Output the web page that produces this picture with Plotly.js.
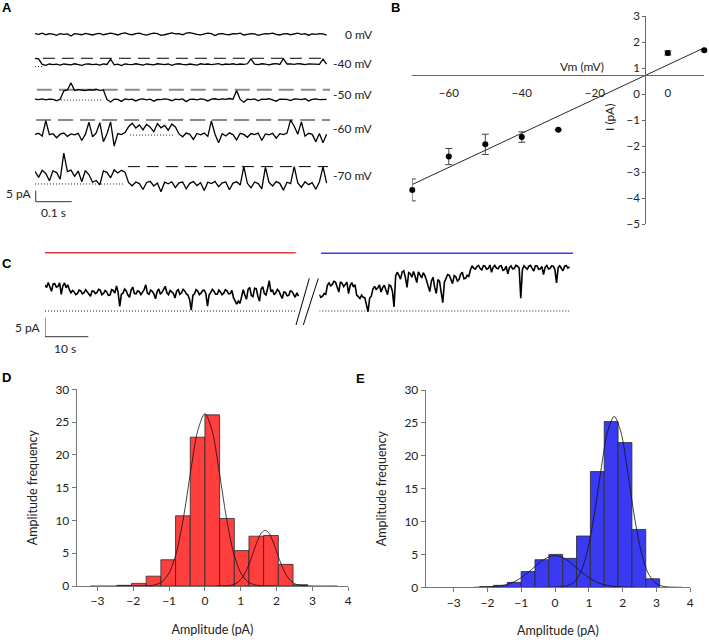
<!DOCTYPE html>
<html><head><meta charset="utf-8">
<script src="https://cdn.plot.ly/plotly-3.0.1.min.js"></script>
<style>html,body{margin:0;padding:0;background:#fff}#chart{width:709px;height:642px}</style>
</head><body><div id="chart"></div>
<script>
// ---------- DATA ----------
// Panel A: single-channel traces (pA, relative to closed level), sampled every 0.01 s
const rowLabels = ['0 mV','-40 mV','-50 mV','-60 mV','-70 mV'];
const A_DT = 0.01;
const r0 = [0.3,0,0.5,-0.2,0.3,0.1,-0.5,0.3,0,0.2,-0.8,0.3,0.1,-0.2,0.4,0,-0.3,0.2,0.4,-0.2,0,0.5,0.2,-0.3,0.3,0.6,0.1,-0.2,0.3,0.5,0,-0.4,0.2,0.5,0.3,-0.5,-0.2,0.3,0.6,0.2,0.3,-0.2,0.5,0.8,0.3,0,-0.3,0.2,0.5,0.3,-0.6,0.2,0.3,0,-0.2,0.3,0.2,0.5,-0.3,0,0.3,0.2,-0.5,0,0.3,0.2,0.5,0,-0.3,0.2,0.3,-0.2,0.2,0.5,0,0.3,-0.4,0.2,0,0.3,0.2,-0.4];
const r40 = [3.8,3.5,1.0,0.6,1.2,0.9,1.1,0.7,1.2,1.0,0.8,1.3,1.0,0.6,1.1,1.2,0.9,1.1,0.7,1.2,1.0,3.4,0.8,1.1,0.5,1.2,1.0,0.9,1.3,1.0,0.7,1.2,1.1,0.8,1.3,1.0,0.9,1.2,0.6,1.1,1.3,1.0,0.8,1.2,1.1,0.7,1.3,1.0,1.2,0.9,1.1,1.4,0.8,1.2,1.0,1.3,0.9,1.2,1.0,1.3,3.5,1.1,0.9,1.3,1.1,0.8,1.2,1.4,1.0,3.6,1.2,1.3,1.0,1.4,1.2,0.9,1.3,1.1,1.2,1.0,3.4,1.1];
const r50 = [0.4,0.2,0.5,0.1,0.4,0.3,-0.3,0.4,4.2,4.6,7.8,4.4,4.8,4.5,4.3,4.7,4.5,4.9,4.4,4.6,0.2,-0.9,0.4,0.3,-0.6,0.5,0.2,0.4,-0.4,0.3,0.5,0.1,0.4,-0.5,0.3,0.2,0.5,0.3,-0.3,0.4,0.2,0.5,-0.7,0.3,0.4,0.1,0.5,0.3,-0.4,0.4,0.6,0.2,0.5,0.3,0.7,0.4,4.4,0.3,-1.0,0.4,0.2,0.5,-0.3,0.4,0.3,0.6,0.2,-0.5,0.4,0.5,0.3,-0.2,0.5,0.4,0.2,0.6,-0.4,0.3,0.5,0.2,0.4,0.3];
const r60 = [0.3,0.8,-0.5,6.5,0.2,0.6,-1.2,0.4,0.9,-0.6,0.5,0.1,0.8,-2.5,0.4,5.8,-0.8,1.0,5.6,-3.0,0.6,6.0,-5.0,0.7,0.2,1.1,3.8,5.4,3.2,4.6,2.4,4.9,3.6,1.5,5.2,3.3,4.4,2.2,5.0,3.7,0.5,-0.8,0.9,0.3,-2.0,0.7,0.1,0.9,-0.6,6.4,0.4,-3.5,0.6,-0.4,1.0,0.2,-2.2,0.8,0.3,-1.0,0.7,0.2,0.9,-2.5,0.5,0.1,0.8,-1.4,0.6,0.2,0.9,6.8,4.0,0.4,6.0,-0.5,0.8,0.3,-3.0,0.7,-3.5,0.4];
const r70 = [5.8,3.0,6.2,4.8,1.5,6.0,5.2,2.2,14.0,5.6,6.3,3.5,5.9,1.0,6.1,4.2,0.8,1.6,-0.4,6.0,5.3,2.8,6.4,5.0,6.2,5.4,0.6,-0.8,0.9,0.2,-2.5,0.7,1.2,-0.9,0.4,-3.5,0.8,0.1,1.0,-1.6,0.5,0.9,-2.2,0.3,1.1,-0.7,0.6,-3.0,0.8,0.2,1.2,-1.2,0.5,0.9,-2.6,0.4,1.0,-0.5,7.9,0.3,-1.8,0.9,0.2,-2.2,7.6,0.7,-0.9,1.1,0.3,-2.8,0.8,0.2,7.9,0.5,-1.5,1.0,-0.3,0.6,-2.4,0.9,7.8,0.4];
// reference levels (pA) and the time spans (s) they are drawn over
const openLevel  = [null, 3.8, 4.7, 6.8, 7.9];
const openStart  = [null, 0.022, 0.005, 0.003, 0.258];
const openEnd    = [null, 0.814, 0.82, 0.82, 0.814];
const closedStart= [null, 0, 0.072, 0.264, 0];
const closedEnd  = [null, 0.02, 0.186, 0.389, 0.25];

// Panel B: I-V relation
const vm    = [-70,-60,-50,-40,-30,0,10];
const iMean = [-3.68,-2.40,-1.93,-1.65,-1.37,1.58,1.68];
const iErr  = [0.42,0.31,0.39,0.20,0,0.08,0.03];
const fitVm = [-70,10];
const fitI  = [-3.47,1.78];
const vmTicks = [-60,-40,-20,0];

// Panel C: long recording (pA above closed level), samples every 0.375 s
const C_DT = 0.375;
const cLeft = [
 6.8,6.2,7.5,6.4,5.2,7.1,7.2,6.3,6.5,7.4,4.4,6.6,7.4,6.1,6.9,5.6,4.8,5.4,5.0,4.3,
 4.6,5.5,5.3,4.5,4.8,5.6,5.1,4.4,3.9,5.3,5.2,4.6,4.9,5.7,5.5,4.3,4.6,5.4,5.0,4.1,
 4.2,5.6,5.4,4.7,6.6,4.9,1.2,4.4,4.7,5.8,5.3,4.2,3.6,5.5,6.3,4.6,4.5,5.3,5.1,4.3,
 4.8,5.6,6.9,4.7,4.4,5.5,5.2,4.5,3.2,5.1,5.8,4.4,4.9,5.6,6.5,4.8,4.3,5.4,5.0,4.6,
 3.4,5.2,5.6,4.4,4.8,5.7,5.3,4.5,4.2,3.0,0.2,4.1,4.5,5.6,5.2,4.3,4.7,5.4,5.5,4.6,
 1.3,4.2,4.9,5.7,5.2,4.4,4.4,5.5,5.0,4.3,4.7,5.6,5.3,4.5,4.6,5.4,3.5,2.4,1.8,2.6,
 2.0,3.8,5.6,4.2,3.1,5.7,6.2,4.1,3.8,6.0,5.9,3.9,2.6,5.8,6.4,4.6,4.2,5.9,8.0,5.1,
 5.6,4.3,4.8,5.7,5.2,4.2,3.3,5.0,4.9,4.0,4.1,5.3,5.1,4.4,3.6,4.8,3.9];
const cRight = [
 4.3,3.6,3.9,4.6,4.4,6.8,7.4,6.6,7.0,7.8,7.6,6.5,5.0,7.7,7.3,6.4,7.1,7.6,4.6,6.7,
 7.5,6.3,6.9,4.2,3.8,3.3,4.2,3.6,3.5,2.0,-0.2,3.4,3.9,5.8,6.5,5.7,6.1,6.9,5.0,6.2,
 6.8,5.5,4.3,6.9,6.6,5.2,1.1,9.2,10.2,9.4,8.4,10.3,10.6,8.8,6.2,10.1,9.8,8.9,10.4,9.1,
 7.5,10.3,9.6,8.7,10.1,9.3,8.0,6.4,5.1,7.9,8.9,6.2,4.6,8.3,7.8,5.0,2.2,7.6,8.8,9.6,
 9.4,8.1,7.2,9.3,9.0,7.9,8.3,9.7,10.2,8.5,8.6,9.4,9.1,10.8,11.9,11.3,11.0,11.7,12.0,11.2,
 10.8,11.9,11.8,11.0,11.2,12.1,10.2,11.5,12.0,11.3,11.1,11.8,11.9,10.7,10.9,11.8,9.8,11.4,11.9,11.1,
 11.2,12.0,11.8,11.3,3.4,11.0,11.9,11.4,11.0,11.8,12.0,11.2,10.5,11.9,11.9,11.0,11.1,11.7,9.6,11.5,
 12.0,11.1,11.2,11.9,11.8,10.9,7.4,11.4,11.9,11.2,10.6,11.8,12.0,11.3,11.6];
const segRed  = [0, 57.86];   // s, left record analysed in D
const segBlue = [0.4, 58.6];  // s, right record analysed in E

// Panel D: amplitude histogram (red) + gaussian fits
const binD  = [-2.255,-1.845,-1.435,-1.025,-0.615,-0.205,0.205,0.615,1.025,1.435,1.845,2.255,2.665];
const freqD = [0.1,0.4,1.5,4.0,10.7,22.7,26.1,10.3,5.4,7.6,7.7,3.3,0.2];
const fitD1x = [-3.2,-2.0,-1.8,-1.6,-1.4,-1.2,-1.0,-0.8,-0.6,-0.4,-0.2,0,0.2,0.4,0.6,0.8,1.0,1.2,1.4,1.6,1.8,2.0];
const fitD1y = [0,0,0.01,0.04,0.17,0.64,1.99,5.03,10.4,17.4,23.7,26.3,23.7,17.4,10.4,5.03,1.99,0.64,0.17,0.04,0.01,0];
const fitD2x = [0.3,0.48,0.68,0.78,0.88,0.98,1.08,1.18,1.28,1.38,1.48,1.58,1.68,1.78,1.88,1.98,2.08,2.18,2.28,2.38,2.48,2.58,2.68,2.88,3.7];
const fitD2y = [0,0.01,0.08,0.2,0.43,0.87,1.59,2.66,4.04,5.59,7.06,8.12,8.5,8.12,7.06,5.59,4.04,2.66,1.59,0.87,0.43,0.2,0.08,0.01,0];

// Panel E: amplitude histogram (blue) + gaussian fits
const binE  = [-2.03,-1.62,-1.21,-0.80,-0.39,0.02,0.43,0.84,1.25,1.66,2.07,2.48,2.89];
const freqE = [0.1,0.3,0.75,2.4,4.2,5.0,4.4,7.8,17.6,25.2,22.0,8.8,1.3];
const fitE1x = [-2.4,-2.2,-2.0,-1.8,-1.6,-1.4,-1.2,-1.0,-0.8,-0.6,-0.4,-0.2,0,0.2,0.4,0.6,0.8,1.0,1.2,1.4,1.6,1.8,2.0,2.2,2.4];
const fitE1y = [0.005,0.015,0.04,0.10,0.23,0.47,0.87,1.47,2.25,3.13,3.97,4.58,4.8,4.58,3.97,3.13,2.25,1.47,0.87,0.47,0.23,0.10,0.04,0.015,0.005];
const fitE2x = [-0.25,-0.05,0.15,0.35,0.55,0.75,0.95,1.15,1.35,1.55,1.75,1.95,2.15,2.35,2.55,2.75,2.95,3.15,3.35,3.55,3.75];
const fitE2y = [0,0.01,0.05,0.21,0.74,2.2,5.35,10.7,17.5,23.6,26.0,23.6,17.5,10.7,5.35,2.2,0.74,0.21,0.05,0.01,0];
const ampTicks = [-3,-2,-1,0,1,2,3,4];

// scale bars
const scaleA = {pA:5, s:0.1};
const scaleC = {pA:5, s:10};

// ---------- LAYOUT HELPERS ----------
const W = 709, H = 642;
const fx = p => p / W, fy = p => 1 - p / H;
const FONT = 'Lato, "Open Sans", sans-serif';
const A_BASE = [77.6, 62.9, 47.7, 31.8, 9.55];   // vertical offset of each row (axis units)
const dashColor = ['', '#000', '#8a8a8a', '#8a8a8a', '#000'];
const dashWidth = [0, 1, 2, 2, 1];
const dashPat   = ['', '12px,7px', '15px,7px', '15px,7px', '12px,7px'];

const traces = [];
const aRows = [r0, r40, r50, r60, r70];
aRows.forEach((r, k) => {
  if (openLevel[k] !== null) {
    traces.push({type:'scatter', mode:'lines', x:[openStart[k], openEnd[k]],
      y:[openLevel[k] + A_BASE[k], openLevel[k] + A_BASE[k]], xaxis:'x', yaxis:'y',
      line:{color:dashColor[k], width:dashWidth[k], dash:dashPat[k]}, hoverinfo:'skip', showlegend:false});
    traces.push({type:'scatter', mode:'lines', x:[closedStart[k], closedEnd[k]],
      y:[A_BASE[k], A_BASE[k]], xaxis:'x', yaxis:'y',
      line:{color:'#222', width:1, dash:'1px,2px'}, hoverinfo:'skip', showlegend:false});
  }
  traces.push({type:'scatter', mode:'lines', x:r.map((_, i) => i * A_DT), y:r.map(v => v + A_BASE[k]),
    xaxis:'x', yaxis:'y', line:{color:'#000', width:1.3}, hoverinfo:'skip', showlegend:false});
});

// Panel B
traces.push({type:'scatter', mode:'lines', x:fitVm, y:fitI, xaxis:'x2', yaxis:'y2',
  line:{color:'#111', width:0.9}, hoverinfo:'skip', showlegend:false});
traces.push({type:'scatter', mode:'markers', x:vm, y:iMean, xaxis:'x2', yaxis:'y2', cliponaxis:false,
  marker:{color:'#000', size:6}, error_y:{type:'data', array:iErr, visible:true, color:'#444', thickness:1, width:3.5},
  showlegend:false});

// Panel C
traces.push({type:'scatter', mode:'lines', x:segRed, y:[15.34,15.34], xaxis:'x3', yaxis:'y3',
  line:{color:'#e8383d', width:1.6}, hoverinfo:'skip', showlegend:false});
traces.push({type:'scatter', mode:'lines', x:segBlue, y:[15.2,15.2], xaxis:'x4', yaxis:'y4',
  line:{color:'#3f3fe0', width:1.6}, hoverinfo:'skip', showlegend:false});
traces.push({type:'scatter', mode:'lines', x:[0, 58.1], y:[0,0], xaxis:'x3', yaxis:'y3',
  line:{color:'#222', width:1, dash:'1px,2px'}, hoverinfo:'skip', showlegend:false});
traces.push({type:'scatter', mode:'lines', x:[0, 57.9], y:[0,0], xaxis:'x4', yaxis:'y4',
  line:{color:'#222', width:1, dash:'1px,2px'}, hoverinfo:'skip', showlegend:false});
traces.push({type:'scatter', mode:'lines', x:cLeft.map((_, i) => i * C_DT), y:cLeft, xaxis:'x3', yaxis:'y3',
  line:{color:'#000', width:1.6}, hoverinfo:'skip', showlegend:false});
traces.push({type:'scatter', mode:'lines', x:cRight.map((_, i) => i * C_DT), y:cRight, xaxis:'x4', yaxis:'y4',
  line:{color:'#000', width:1.6}, hoverinfo:'skip', showlegend:false});

// Panel D
traces.push({type:'bar', x:binD, y:freqD, width:0.41, xaxis:'x5', yaxis:'y5',
  marker:{color:'#ff3e3e', line:{color:'#2a2a2a', width:0.8}}, showlegend:false});
traces.push({type:'scatter', mode:'lines', x:fitD1x, y:fitD1y, xaxis:'x5', yaxis:'y5',
  line:{color:'#111', width:0.8, shape:'spline', smoothing:0.8}, hoverinfo:'skip', showlegend:false});
traces.push({type:'scatter', mode:'lines', x:fitD2x, y:fitD2y, xaxis:'x5', yaxis:'y5',
  line:{color:'#111', width:0.8, shape:'spline', smoothing:0.8}, hoverinfo:'skip', showlegend:false});

// Panel E
traces.push({type:'bar', x:binE, y:freqE, width:0.41, xaxis:'x6', yaxis:'y6',
  marker:{color:'#3a3af2', line:{color:'#2a2a2a', width:0.8}}, showlegend:false});
traces.push({type:'scatter', mode:'lines', x:fitE1x, y:fitE1y, xaxis:'x6', yaxis:'y6',
  line:{color:'#111', width:0.8, shape:'spline', smoothing:0.8}, hoverinfo:'skip', showlegend:false});
traces.push({type:'scatter', mode:'lines', x:fitE2x, y:fitE2y, xaxis:'x6', yaxis:'y6',
  line:{color:'#111', width:0.8, shape:'spline', smoothing:0.8}, hoverinfo:'skip', showlegend:false});

const hidden = {visible:false, fixedrange:true};
const histX = (d0, d1, rng) => ({domain:[fx(d0), fx(d1)], range:rng, tickvals:ampTicks, ticks:'outside', ticklen:4,
  tickcolor:'#777', showline:true, linecolor:'#777', linewidth:1, zeroline:false, showgrid:false,
  tickfont:{family:FONT, size:12, color:'#222'}, title:{text:'Amplitude (pA)', font:{family:FONT, size:12.5, color:'#222'}, standoff:17}});
const histY = (p0, p1) => ({domain:[fy(p0), fy(p1)], range:[0,30], dtick:5, ticks:'outside', ticklen:4,
  tickcolor:'#777', showline:true, linecolor:'#777', linewidth:1, zeroline:false, showgrid:false,
  tickfont:{family:FONT, size:12, color:'#222'}, title:{text:'Amplitude frequency', font:{family:FONT, size:12.5, color:'#222'}, standoff:14}});

const ann = (t, x, y, o) => Object.assign({text:t, x:fx(x), y:fy(y), xref:'paper', yref:'paper', showarrow:false,
  xanchor:'center', yanchor:'middle', font:{family:FONT, size:12, color:'#222'}}, o || {});
const letter = (t, x, y) => ann('<b>' + t + '</b>', x, y, {font:{family:'"Liberation Sans", Arial, sans-serif', size:13, color:'#000'}});
const rowY = [35, 63.3, 94.3, 129, 175.7];

const layout = {
  width:W, height:H, margin:{l:0, r:0, t:0, b:0}, paper_bgcolor:'#fff', plot_bgcolor:'rgba(0,0,0,0)',
  font:{family:FONT}, bargap:0, showlegend:false,
  xaxis:Object.assign({domain:[fx(35), fx(35 + 0.82 * 360)], range:[0, 0.82], anchor:'y'}, hidden),
  yaxis:Object.assign({domain:[fy(205), fy(20)], range:[0, 84.1], anchor:'x'}, hidden),
  xaxis2:{domain:[fx(412.3), fx(704.3)], range:[-70, 10], anchor:'free', position:fy(75.4), tickvals:vmTicks,
    ticks:'', showline:true, linecolor:'#666', linewidth:1, zeroline:false, showgrid:false,
    tickfont:{family:FONT, size:11.5, color:'#222'}, ticklabelstandoff:7},
  yaxis2:{domain:[fy(224.3), fy(16)], range:[-5, 3], anchor:'free', position:fx(645.2), dtick:1,
    ticks:'outside', ticklen:3, tickcolor:'#666', showline:true, linecolor:'#666', linewidth:1, zeroline:false, showgrid:false,
    tickfont:{family:FONT, size:11.5, color:'#222'}},
  xaxis3:Object.assign({domain:[fx(45), fx(300)], range:[0, 58.85], anchor:'y3'}, hidden),
  yaxis3:Object.assign({domain:[fy(340), fy(245)], range:[-7.63, 17.37], anchor:'x3'}, hidden),
  xaxis4:Object.assign({domain:[fx(319.3), fx(573.3)], range:[0, 58.62], anchor:'y4'}, hidden),
  yaxis4:Object.assign({domain:[fy(340), fy(245)], range:[-7.63, 17.37], anchor:'x4'}, hidden),
  xaxis5:Object.assign(histX(76.7, 348.2, [-3.58, 4]), {anchor:'y5'}),
  yaxis5:Object.assign(histY(586, 389.3), {anchor:'x5'}),
  xaxis6:Object.assign(histX(425.7, 690.2, [-3.83, 4]), {anchor:'y6'}),
  yaxis6:Object.assign(histY(587.3, 390), {anchor:'x6'}),
  shapes:[
    // scale bar A
    {type:'line', xref:'x', yref:'y', x0:0.002, x1:0.002, y0:1.5, y1:1.5 + scaleA.pA, line:{color:'#333', width:1}},
    {type:'line', xref:'x', yref:'y', x0:0.002, x1:0.002 + scaleA.s, y0:1.5, y1:1.5, line:{color:'#333', width:1}},
    // scale bar C
    {type:'line', xref:'x3', yref:'y3', x0:0, x1:0, y0:-6.76, y1:-6.76 + scaleC.pA, line:{color:'#333', width:1}},
    {type:'line', xref:'x3', yref:'y3', x0:0, x1:scaleC.s, y0:-6.76, y1:-6.76, line:{color:'#333', width:1}},
    // break marks
    {type:'line', xref:'paper', yref:'paper', x0:fx(296), y0:fy(325), x1:fx(309.3), y1:fy(278.3), line:{color:'#000', width:1}},
    {type:'line', xref:'paper', yref:'paper', x0:fx(303.3), y0:fy(325), x1:fx(318.3), y1:fy(278.3), line:{color:'#000', width:1}}
  ],
  annotations:[
    letter('A', 7.5, 7.5), letter('B', 395, 7.5), letter('C', 6.5, 263), letter('D', 6.5, 377), letter('E', 360, 378.5),
    ...rowLabels.map((t, k) => ann(t, 375, rowY[k], {xanchor:'right'})),
    ann('5 pA', 19, 194), ann('0.1 s', 53.3, 212),
    ann('5 pA', 28, 327.7), ann('10 s', 65, 348.3),
    ann('Vm (mV)', 581.7, 66),
    ann('I (pA)', 609, 118, {textangle:-90})
  ]
};

Plotly.newPlot('chart', traces, layout, {displayModeBar:false, staticPlot:true});
</script></body></html>
